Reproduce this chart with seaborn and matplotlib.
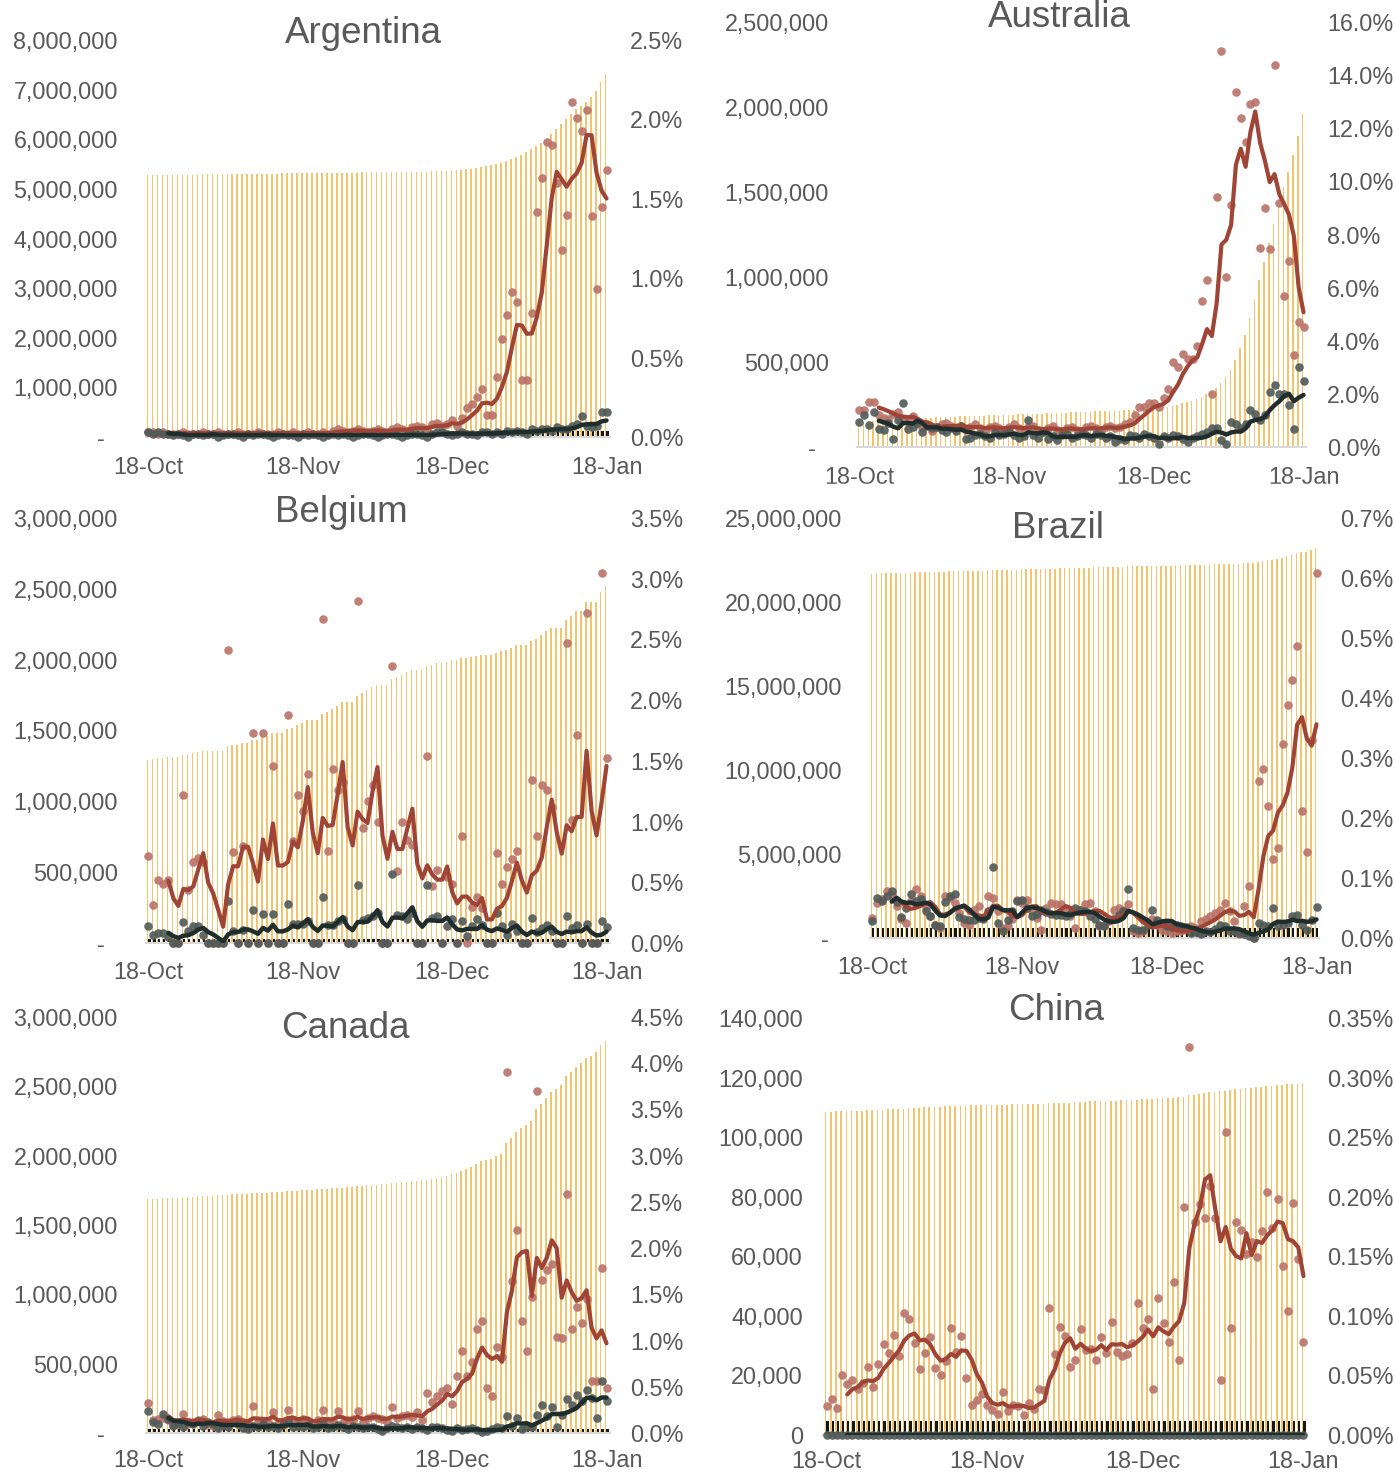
import numpy as np
import pandas as pd
import seaborn as sns
import matplotlib.pyplot as plt
from matplotlib.ticker import FuncFormatter
from matplotlib.patches import Rectangle

sns.set_theme(style="white")
plt.rcParams['font.family'] = ['Liberation Sans', 'DejaVu Sans']

# 18-Oct-2021 .. 18-Jan-2022, one value per day (93 days)
tick_days = [0, 31, 61, 92]
tick_labels = ['18-Oct', '18-Nov', '18-Dec', '18-Jan']

# ---------------- Argentina ----------------
arg_cases_m = [
    5.27, 5.27, 5.27, 5.27, 5.28, 5.28, 5.28, 5.28, 5.28, 5.28,
    5.28, 5.29, 5.29, 5.29, 5.29, 5.29, 5.29, 5.29, 5.29, 5.30,
    5.30, 5.30, 5.30, 5.30, 5.30, 5.30, 5.30, 5.31, 5.31, 5.31,
    5.31, 5.31, 5.31, 5.31, 5.31, 5.31, 5.32, 5.32, 5.32, 5.32,
    5.32, 5.32, 5.32, 5.33, 5.33, 5.33, 5.33, 5.33, 5.33, 5.34,
    5.34, 5.34, 5.34, 5.35, 5.35, 5.35, 5.35, 5.36, 5.36, 5.36,
    5.37, 5.37, 5.38, 5.39, 5.40, 5.41, 5.42, 5.44, 5.46, 5.48,
    5.50, 5.53, 5.56, 5.60, 5.64, 5.69, 5.75, 5.80, 5.86, 5.93,
    6.01, 6.10, 6.20, 6.30, 6.40, 6.50, 6.60, 6.68, 6.76, 6.85,
    6.98, 7.15, 7.32]
arg_deaths_k = [
    115.8, 115.8, 115.8, 115.9, 115.9, 115.9, 115.9, 116.0, 116.0, 116.0,
    116.0, 116.0, 116.1, 116.1, 116.1, 116.1, 116.1, 116.2, 116.2, 116.2,
    116.2, 116.2, 116.3, 116.3, 116.3, 116.3, 116.3, 116.4, 116.4, 116.4,
    116.4, 116.4, 116.5, 116.5, 116.5, 116.5, 116.5, 116.6, 116.6, 116.6,
    116.6, 116.6, 116.7, 116.7, 116.7, 116.7, 116.7, 116.8, 116.8, 116.8,
    116.8, 116.8, 116.9, 116.9, 116.9, 116.9, 116.9, 117.0, 117.0, 117.0,
    117.0, 117.0, 117.1, 117.1, 117.1, 117.1, 117.1, 117.2, 117.2, 117.2,
    117.2, 117.2, 117.3, 117.3, 117.3, 117.3, 117.3, 117.4, 117.4, 117.4,
    117.5, 117.5, 117.6, 117.6, 117.7, 117.8, 117.9, 118.0, 118.1, 118.2,
    118.3, 118.5, 118.7]
arg_case_pct = [
    0.03, 0.03, 0.02, 0.03, 0.02, 0.02, 0.02, 0.03, 0.02, 0.02,
    0.02, 0.03, 0.02, 0.02, 0.03, 0.02, 0.02, 0.02, 0.03, 0.02,
    0.02, 0.02, 0.03, 0.02, 0.02, 0.02, 0.03, 0.02, 0.02, 0.03,
    0.02, 0.02, 0.03, 0.02, 0.02, 0.03, 0.02, 0.04, 0.05, 0.04,
    0.03, 0.04, 0.05, 0.04, 0.03, 0.04, 0.05, 0.04, 0.03, 0.05,
    0.06, 0.05, 0.04, 0.06, 0.07, 0.06, 0.05, 0.08, 0.09, 0.07,
    0.08, 0.11, 0.07, 0.12, 0.18, 0.21, 0.25, 0.30, 0.14, 0.14,
    0.38, 0.62, 0.77, 0.91, 0.85, 0.36, 0.36, 0.78, 1.42, 1.63,
    1.86, 1.84, 1.60, 1.18, 1.40, 2.11, 2.01, 1.93, 2.06, 1.39,
    0.93, 1.45, 1.68]
arg_death_pct = [
    0.03, 0.02, 0.03, 0.02, 0.02, 0.01, 0.02, 0.01, 0.00, 0.02,
    0.02, 0.01, 0.02, 0.02, 0.00, 0.01, 0.02, 0.02, 0.01, 0.00,
    0.02, 0.01, 0.02, 0.02, 0.01, 0.00, 0.01, 0.02, 0.01, 0.01,
    0.00, 0.02, 0.01, 0.02, 0.01, 0.00, 0.01, 0.02, 0.01, 0.02,
    0.01, 0.00, 0.01, 0.02, 0.02, 0.01, 0.00, 0.01, 0.02, 0.02,
    0.01, 0.00, 0.01, 0.02, 0.02, 0.01, 0.00, 0.02, 0.03, 0.03,
    0.02, 0.01, 0.02, 0.03, 0.02, 0.02, 0.01, 0.03, 0.03, 0.02,
    0.03, 0.02, 0.04, 0.03, 0.04, 0.03, 0.02, 0.05, 0.04, 0.05,
    0.05, 0.04, 0.06, 0.05, 0.05, 0.07, 0.08, 0.13, 0.07, 0.06,
    0.07, 0.16, 0.16]

# ---------------- Australia ----------------
aus_cases_m = [
    0.147, 0.149, 0.151, 0.153, 0.155, 0.157, 0.159, 0.161, 0.163, 0.165,
    0.166, 0.168, 0.169, 0.171, 0.172, 0.173, 0.175, 0.176, 0.177, 0.178,
    0.179, 0.180, 0.181, 0.182, 0.183, 0.184, 0.185, 0.186, 0.187, 0.188,
    0.189, 0.190, 0.191, 0.192, 0.193, 0.194, 0.195, 0.196, 0.197, 0.198,
    0.199, 0.200, 0.201, 0.202, 0.203, 0.205, 0.206, 0.207, 0.208, 0.209,
    0.210, 0.211, 0.212, 0.213, 0.214, 0.216, 0.217, 0.218, 0.220, 0.222,
    0.224, 0.227, 0.230, 0.234, 0.238, 0.243, 0.249, 0.256, 0.264, 0.273,
    0.284, 0.296, 0.310, 0.327, 0.347, 0.374, 0.410, 0.455, 0.512, 0.580,
    0.660, 0.760, 0.870, 0.980, 1.090, 1.200, 1.310, 1.420, 1.530, 1.620,
    1.720, 1.830, 1.960]
aus_deaths_k = [
    1.55, 1.56, 1.57, 1.59, 1.60, 1.61, 1.62, 1.63, 1.64, 1.65,
    1.66, 1.67, 1.68, 1.69, 1.70, 1.71, 1.72, 1.73, 1.74, 1.75,
    1.76, 1.77, 1.78, 1.79, 1.80, 1.80, 1.81, 1.82, 1.83, 1.84,
    1.85, 1.86, 1.87, 1.88, 1.89, 1.90, 1.91, 1.92, 1.93, 1.94,
    1.95, 1.96, 1.97, 1.98, 1.99, 2.00, 2.01, 2.02, 2.03, 2.04,
    2.05, 2.05, 2.06, 2.07, 2.08, 2.09, 2.10, 2.11, 2.12, 2.13,
    2.14, 2.14, 2.15, 2.15, 2.16, 2.17, 2.17, 2.18, 2.19, 2.19,
    2.20, 2.21, 2.21, 2.22, 2.23, 2.23, 2.24, 2.25, 2.26, 2.27,
    2.29, 2.31, 2.33, 2.35, 2.37, 2.40, 2.43, 2.46, 2.49, 2.52,
    2.55, 2.63, 2.70]
aus_case_pct = [
    1.41, 1.41, 1.70, 1.70, 1.20, 1.10, 1.05, 1.25, 1.30, 1.05,
    0.95, 1.15, 0.90, 0.75, 0.85, 0.60, 0.75, 0.85, 0.90, 0.80,
    0.70, 0.80, 0.65, 0.75, 0.85, 0.70, 0.60, 0.75, 0.80, 0.70,
    0.65, 0.75, 0.85, 0.70, 0.60, 0.75, 0.80, 0.65, 0.55, 0.70,
    0.80, 0.65, 0.60, 0.70, 0.75, 0.65, 0.60, 0.75, 0.80, 0.70,
    0.65, 0.75, 0.80, 0.70, 0.75, 0.85, 0.95, 1.20, 1.51, 1.50,
    1.64, 1.64, 1.51, 1.83, 2.20, 3.20, 3.00, 3.50, 3.30, 3.30,
    3.80, 5.50, 6.30, 2.00, 9.40, 14.90, 6.40, 9.10, 13.35, 12.40,
    11.50, 12.90, 13.00, 7.50, 9.00, 7.46, 14.40, 9.20, 5.67, 7.00,
    3.46, 4.70, 4.53]
aus_death_pct = [
    0.94, 1.20, 0.82, 1.30, 0.69, 0.63, 0.90, 0.31, 1.00, 1.64,
    0.69, 0.75, 0.90, 0.55, 0.80, 0.70, 0.75, 0.65, 0.55, 0.70,
    0.60, 0.80, 0.30, 0.35, 0.45, 0.50, 0.40, 0.35, 0.55, 0.45,
    0.50, 0.55, 0.45, 0.35, 0.40, 1.00, 0.45, 0.35, 0.55, 0.30,
    0.40, 0.25, 0.45, 0.50, 0.35, 0.40, 0.50, 0.45, 0.35, 0.50,
    0.45, 0.35, 0.40, 0.20, 0.30, 0.25, 0.45, 0.40, 0.35, 0.50,
    0.40, 0.35, 0.10, 0.40, 0.35, 0.45, 0.40, 0.30, 0.20, 0.35,
    0.40, 0.50, 0.55, 0.70, 0.72, 0.25, 0.13, 0.94, 0.88, 0.70,
    0.85, 1.40, 1.26, 1.00, 1.20, 2.08, 2.33, 2.00, 2.00, 1.60,
    0.69, 3.00, 2.50]

# ---------------- Belgium ----------------
bel_cases_m = [
    1.290, 1.297, 1.303, 1.308, 1.312, 1.312, 1.312, 1.325, 1.330, 1.338,
    1.345, 1.352, 1.352, 1.352, 1.352, 1.352, 1.390, 1.400, 1.400, 1.410,
    1.410, 1.435, 1.435, 1.460, 1.460, 1.480, 1.480, 1.480, 1.508, 1.520,
    1.538, 1.555, 1.577, 1.577, 1.577, 1.620, 1.632, 1.655, 1.675, 1.698,
    1.698, 1.698, 1.746, 1.763, 1.783, 1.806, 1.824, 1.824, 1.824, 1.865,
    1.876, 1.894, 1.910, 1.925, 1.925, 1.925, 1.955, 1.964, 1.976, 1.976,
    1.986, 1.996, 1.996, 2.013, 2.013, 2.019, 2.027, 2.033, 2.033, 2.033,
    2.048, 2.058, 2.071, 2.085, 2.101, 2.101, 2.101, 2.129, 2.148, 2.176,
    2.203, 2.227, 2.227, 2.227, 2.282, 2.305, 2.344, 2.344, 2.408, 2.408,
    2.408, 2.481, 2.519]
bel_deaths_k = [
    25.90, 25.91, 25.92, 25.94, 25.95, 25.95, 25.95, 25.98, 25.99, 26.01,
    26.03, 26.05, 26.05, 26.05, 26.05, 26.05, 26.14, 26.16, 26.16, 26.19,
    26.19, 26.26, 26.26, 26.32, 26.32, 26.38, 26.38, 26.38, 26.46, 26.50,
    26.54, 26.58, 26.63, 26.63, 26.63, 26.73, 26.77, 26.81, 26.86, 26.91,
    26.91, 26.91, 27.04, 27.09, 27.15, 27.21, 27.28, 27.28, 27.28, 27.44,
    27.50, 27.56, 27.61, 27.68, 27.68, 27.68, 27.81, 27.87, 27.93, 27.93,
    27.97, 28.02, 28.02, 28.07, 28.09, 28.13, 28.19, 28.23, 28.23, 28.23,
    28.30, 28.34, 28.36, 28.40, 28.43, 28.43, 28.43, 28.49, 28.51, 28.55,
    28.59, 28.62, 28.62, 28.62, 28.68, 28.72, 28.76, 28.76, 28.81, 28.81,
    28.81, 28.86, 28.90]
bel_case_pct = [
    0.72, 0.31, 0.52, 0.49, 0.52, 0.00, 0.00, 1.22, 0.44, 0.67,
    0.70, 0.67, 0.00, 0.00, 0.00, 0.00, 2.41, 0.75, 0.00, 0.80,
    0.00, 1.73, 0.00, 1.73, 0.00, 1.46, 0.00, 0.00, 1.88, 0.84,
    1.22, 1.09, 1.39, 0.00, 0.00, 2.67, 0.76, 1.43, 1.26, 1.33,
    0.00, 0.00, 2.82, 0.95, 1.17, 1.30, 1.00, 0.00, 0.00, 2.28,
    0.59, 1.00, 0.85, 0.81, 0.00, 0.00, 1.54, 0.47, 0.60, 0.00,
    0.54, 0.49, 0.00, 0.88, 0.00, 0.30, 0.38, 0.29, 0.00, 0.00,
    0.74, 0.49, 0.63, 0.69, 0.76, 0.00, 0.00, 1.34, 0.88, 1.30,
    1.26, 1.12, 0.00, 0.00, 2.47, 1.01, 1.71, 0.00, 2.72, 0.00,
    0.00, 3.05, 1.52]
bel_death_pct = [
    0.14, 0.07, 0.08, 0.08, 0.05, 0.00, 0.00, 0.17, 0.10, 0.14,
    0.14, 0.07, 0.00, 0.00, 0.00, 0.00, 0.35, 0.10, 0.00, 0.11,
    0.00, 0.27, 0.00, 0.24, 0.00, 0.24, 0.00, 0.00, 0.32, 0.16,
    0.16, 0.16, 0.18, 0.00, 0.00, 0.38, 0.15, 0.15, 0.18, 0.20,
    0.00, 0.00, 0.48, 0.19, 0.21, 0.22, 0.25, 0.00, 0.00, 0.57,
    0.23, 0.22, 0.20, 0.25, 0.00, 0.00, 0.48, 0.21, 0.22, 0.00,
    0.14, 0.20, 0.00, 0.18, 0.06, 0.14, 0.20, 0.15, 0.00, 0.00,
    0.25, 0.14, 0.07, 0.16, 0.10, 0.00, 0.00, 0.21, 0.09, 0.12,
    0.15, 0.10, 0.00, 0.00, 0.22, 0.12, 0.15, 0.00, 0.16, 0.00,
    0.00, 0.18, 0.13]

# ---------------- Brazil ----------------
bra_cases_m = [
    21.67, 21.68, 21.70, 21.71, 21.72, 21.73, 21.73, 21.74, 21.75, 21.76,
    21.77, 21.78, 21.79, 21.79, 21.80, 21.81, 21.82, 21.83, 21.84, 21.84,
    21.85, 21.86, 21.87, 21.87, 21.88, 21.89, 21.90, 21.90, 21.91, 21.92,
    21.93, 21.94, 21.95, 21.95, 21.96, 21.97, 21.98, 21.99, 21.99, 22.00,
    22.01, 22.02, 22.03, 22.03, 22.04, 22.05, 22.06, 22.06, 22.07, 22.08,
    22.09, 22.10, 22.11, 22.12, 22.12, 22.13, 22.14, 22.14, 22.15, 22.16,
    22.16, 22.17, 22.17, 22.18, 22.18, 22.19, 22.19, 22.20, 22.21, 22.22,
    22.23, 22.24, 22.25, 22.27, 22.28, 22.29, 22.29, 22.30, 22.32, 22.32,
    22.38, 22.44, 22.49, 22.52, 22.55, 22.62, 22.71, 22.81, 22.92, 22.97,
    23.00, 23.08, 23.22]
bra_deaths_k = [
    603.5, 603.9, 604.2, 604.7, 605.2, 605.5, 605.7, 605.9, 606.3, 606.7,
    607.1, 607.4, 607.7, 607.8, 607.9, 608.2, 608.7, 609.1, 609.4, 609.6,
    609.8, 610.0, 610.2, 610.4, 610.7, 611.3, 611.5, 611.6, 611.8, 612.0,
    612.4, 612.8, 613.1, 613.3, 613.6, 613.8, 614.1, 614.3, 614.6, 614.8,
    615.0, 615.3, 615.6, 615.9, 616.2, 616.4, 616.6, 616.7, 616.8, 617.0,
    617.2, 617.4, 617.7, 618.2, 618.3, 618.4, 618.5, 618.6, 618.9, 619.1,
    619.2, 619.3, 619.4, 619.5, 619.6, 619.7, 619.8, 619.8, 619.8, 619.9,
    619.9, 620.0, 620.1, 620.2, 620.3, 620.3, 620.4, 620.4, 620.4, 620.4,
    620.5, 620.7, 620.8, 621.1, 621.2, 621.3, 621.5, 621.7, 621.9, 622.1,
    622.2, 622.4, 622.7]
bra_case_pct = [
    0.033, 0.059, 0.065, 0.078, 0.072, 0.053, 0.031, 0.025, 0.062, 0.081,
    0.070, 0.050, 0.036, 0.022, 0.017, 0.070, 0.067, 0.059, 0.042, 0.025,
    0.022, 0.047, 0.053, 0.033, 0.070, 0.067, 0.045, 0.017, 0.020, 0.031,
    0.064, 0.059, 0.064, 0.045, 0.033, 0.014, 0.050, 0.059, 0.056, 0.056,
    0.045, 0.036, 0.017, 0.047, 0.056, 0.059, 0.045, 0.020, 0.022, 0.028,
    0.047, 0.050, 0.047, 0.056, 0.011, 0.008, 0.011, 0.025, 0.031, 0.022,
    0.014, 0.011, 0.008, 0.011, 0.011, 0.015, 0.020, 0.017, 0.028, 0.031,
    0.036, 0.042, 0.047, 0.059, 0.045, 0.028, 0.006, 0.053, 0.086, 0.000,
    0.262, 0.282, 0.220, 0.131, 0.150, 0.323, 0.388, 0.430, 0.487, 0.212,
    0.144, 0.330, 0.608]
bra_death_pct = [
    0.028, 0.066, 0.061, 0.070, 0.078, 0.060, 0.035, 0.050, 0.073, 0.062,
    0.065, 0.045, 0.036, 0.022, 0.020, 0.060, 0.070, 0.073, 0.035, 0.032,
    0.030, 0.030, 0.033, 0.032, 0.045, 0.119, 0.025, 0.012, 0.030, 0.045,
    0.061, 0.064, 0.050, 0.036, 0.040, 0.047, 0.043, 0.040, 0.038, 0.039,
    0.036, 0.040, 0.050, 0.047, 0.045, 0.036, 0.031, 0.022, 0.020, 0.030,
    0.031, 0.039, 0.045, 0.081, 0.017, 0.014, 0.014, 0.022, 0.047, 0.030,
    0.025, 0.020, 0.019, 0.022, 0.020, 0.018, 0.008, 0.010, 0.006, 0.011,
    0.010, 0.015, 0.022, 0.020, 0.012, 0.011, 0.008, 0.006, 0.003, 0.000,
    0.025, 0.022, 0.020, 0.050, 0.020, 0.022, 0.025, 0.036, 0.038, 0.022,
    0.014, 0.030, 0.051]

# ---------------- Canada ----------------
can_cases_m = [
    1.685, 1.688, 1.690, 1.692, 1.694, 1.696, 1.698, 1.700, 1.702, 1.704,
    1.706, 1.708, 1.710, 1.712, 1.714, 1.716, 1.718, 1.720, 1.722, 1.724,
    1.726, 1.728, 1.730, 1.732, 1.734, 1.736, 1.738, 1.740, 1.742, 1.745,
    1.747, 1.750, 1.752, 1.755, 1.757, 1.760, 1.762, 1.765, 1.768, 1.770,
    1.773, 1.776, 1.779, 1.782, 1.785, 1.788, 1.791, 1.794, 1.797, 1.800,
    1.804, 1.807, 1.811, 1.815, 1.819, 1.823, 1.828, 1.833, 1.838, 1.845,
    1.855, 1.866, 1.877, 1.893, 1.905, 1.918, 1.938, 1.962, 1.971, 1.979,
    1.997, 2.013, 2.092, 2.125, 2.172, 2.199, 2.218, 2.251, 2.334, 2.372,
    2.414, 2.457, 2.482, 2.508, 2.573, 2.602, 2.637, 2.668, 2.706, 2.722,
    2.745, 2.795, 2.830]
can_deaths_k = [
    28.40, 28.43, 28.46, 28.50, 28.53, 28.56, 28.59, 28.61, 28.64, 28.67,
    28.70, 28.72, 28.75, 28.78, 28.80, 28.82, 28.84, 28.86, 28.89, 28.91,
    28.92, 28.93, 28.95, 28.97, 28.99, 29.00, 29.02, 29.04, 29.07, 29.09,
    29.11, 29.13, 29.15, 29.17, 29.18, 29.20, 29.22, 29.24, 29.26, 29.28,
    29.29, 29.31, 29.33, 29.34, 29.35, 29.37, 29.39, 29.40, 29.41, 29.43,
    29.45, 29.47, 29.48, 29.50, 29.51, 29.53, 29.54, 29.56, 29.58, 29.59,
    29.61, 29.62, 29.63, 29.65, 29.66, 29.67, 29.68, 29.69, 29.69, 29.70,
    29.72, 29.73, 29.79, 29.81, 29.86, 29.87, 29.89, 29.91, 29.97, 30.06,
    30.11, 30.19, 30.21, 30.27, 30.38, 30.47, 30.59, 30.70, 30.84, 30.96,
    31.01, 31.18, 31.29]
can_case_pct = [
    0.32, 0.14, 0.15, 0.16, 0.14, 0.10, 0.12, 0.21, 0.10, 0.12,
    0.14, 0.15, 0.10, 0.08, 0.20, 0.13, 0.12, 0.14, 0.15, 0.12,
    0.10, 0.29, 0.12, 0.13, 0.11, 0.23, 0.10, 0.12, 0.25, 0.14,
    0.13, 0.15, 0.12, 0.10, 0.14, 0.25, 0.13, 0.12, 0.24, 0.11,
    0.14, 0.15, 0.24, 0.12, 0.16, 0.18, 0.16, 0.15, 0.12, 0.28,
    0.16, 0.18, 0.20, 0.17, 0.23, 0.14, 0.43, 0.34, 0.40, 0.45,
    0.49, 0.31, 0.62, 0.89, 0.62, 0.77, 1.13, 1.21, 0.49, 0.40,
    0.93, 0.82, 3.91, 1.64, 2.20, 1.21, 0.89, 1.47, 3.70, 1.66,
    1.76, 1.83, 1.04, 1.03, 2.59, 1.13, 1.36, 1.19, 1.45, 0.56,
    0.56, 1.79, 0.49]
can_death_pct = [
    0.24, 0.12, 0.10, 0.21, 0.15, 0.08, 0.10, 0.06, 0.12, 0.10,
    0.13, 0.08, 0.12, 0.10, 0.05, 0.09, 0.07, 0.12, 0.10, 0.05,
    0.04, 0.08, 0.07, 0.10, 0.06, 0.08, 0.05, 0.09, 0.14, 0.07,
    0.08, 0.06, 0.09, 0.05, 0.07, 0.10, 0.05, 0.07, 0.09, 0.06,
    0.04, 0.08, 0.06, 0.05, 0.07, 0.06, 0.04, 0.02, 0.05, 0.08,
    0.06, 0.05, 0.07, 0.04, 0.06, 0.05, 0.03, 0.07, 0.06, 0.05,
    0.03, 0.02, 0.05, 0.03, 0.04, 0.05, 0.03, 0.01, 0.02, 0.04,
    0.06, 0.05, 0.18, 0.08, 0.16, 0.04, 0.07, 0.06, 0.20, 0.30,
    0.18, 0.28, 0.07, 0.20, 0.37, 0.30, 0.41, 0.35, 0.47, 0.38,
    0.16, 0.56, 0.35]

# ---------------- China ----------------
chn_cases_k = [
    108.6, 108.6, 108.7, 108.7, 108.8, 108.8, 108.9, 108.9, 109.0, 109.0,
    109.1, 109.2, 109.3, 109.4, 109.5, 109.6, 109.7, 109.8, 109.9, 110.0,
    110.1, 110.1, 110.2, 110.3, 110.4, 110.5, 110.6, 110.6, 110.7, 110.7,
    110.8, 110.8, 110.8, 110.9, 110.9, 110.9, 111.0, 111.0, 111.0, 111.1,
    111.1, 111.1, 111.2, 111.3, 111.4, 111.5, 111.6, 111.6, 111.7, 111.8,
    111.9, 112.0, 112.0, 112.1, 112.2, 112.2, 112.3, 112.4, 112.5, 112.5,
    112.6, 112.7, 112.8, 112.9, 113.0, 113.1, 113.2, 113.3, 113.4, 113.6,
    114.0, 114.3, 114.6, 114.8, 115.0, 115.2, 115.4, 115.6, 115.8, 116.0,
    116.2, 116.4, 116.6, 116.8, 117.0, 117.2, 117.3, 117.5, 117.6, 117.8,
    117.9, 118.0, 118.1]
chn_deaths = [
    4636, 4636, 4636, 4636, 4636, 4636, 4636, 4636, 4636, 4636,
    4636, 4636, 4636, 4636, 4636, 4636, 4636, 4636, 4636, 4636,
    4636, 4636, 4636, 4636, 4636, 4636, 4636, 4636, 4636, 4636,
    4636, 4636, 4636, 4636, 4636, 4636, 4636, 4636, 4636, 4636,
    4636, 4636, 4636, 4636, 4636, 4636, 4636, 4636, 4636, 4636,
    4636, 4636, 4636, 4636, 4636, 4636, 4636, 4636, 4636, 4636,
    4636, 4636, 4636, 4636, 4636, 4636, 4636, 4636, 4636, 4636,
    4636, 4636, 4636, 4636, 4636, 4636, 4636, 4636, 4636, 4636,
    4636, 4636, 4636, 4636, 4636, 4636, 4636, 4636, 4636, 4636,
    4636, 4636, 4636]
chn_case_pct = [
    0.024, 0.030, 0.023, 0.050, 0.043, 0.046, 0.039, 0.044, 0.057, 0.040,
    0.060, 0.076, 0.069, 0.084, 0.066, 0.102, 0.097, 0.077, 0.055, 0.069,
    0.082, 0.056, 0.050, 0.062, 0.090, 0.070, 0.083, 0.048, 0.025, 0.029,
    0.034, 0.025, 0.021, 0.018, 0.036, 0.020, 0.025, 0.024, 0.017, 0.027,
    0.022, 0.039, 0.038, 0.107, 0.068, 0.091, 0.083, 0.057, 0.063, 0.089,
    0.071, 0.072, 0.063, 0.082, 0.069, 0.095, 0.070, 0.066, 0.068, 0.077,
    0.111, 0.090, 0.097, 0.039, 0.115, 0.094, 0.078, 0.128, 0.063, 0.191,
    0.326, 0.179, 0.194, 0.182, 0.209, 0.182, 0.046, 0.254, 0.090, 0.179,
    0.172, 0.152, 0.162, 0.149, 0.171, 0.204, 0.174, 0.198, 0.142, 0.104,
    0.195, 0.148, 0.078]
chn_death_pct = [
    0, 0, 0, 0, 0, 0, 0, 0, 0, 0,
    0, 0, 0, 0, 0, 0, 0, 0, 0, 0,
    0, 0, 0, 0, 0, 0, 0, 0, 0, 0,
    0, 0, 0, 0, 0, 0, 0, 0, 0, 0,
    0, 0, 0, 0, 0, 0, 0, 0, 0, 0,
    0, 0, 0, 0, 0, 0, 0, 0, 0, 0,
    0, 0, 0, 0, 0, 0, 0, 0, 0, 0,
    0, 0, 0, 0, 0, 0, 0, 0, 0, 0,
    0, 0, 0, 0, 0, 0, 0, 0, 0, 0,
    0, 0, 0]

# ---------------- styling ----------------
W, H = 1395, 1474
TXT = '#595959'
ORANGE = '#F2C46E'
BLACK = '#161616'
RED_DOT = '#BA7268'
RED_LINE = '#A04436'
GRAY_DOT = '#4F5A57'
DARK_LINE = '#1F2D2D'
AXIS = '#D9D9D9'

fig = plt.figure(figsize=(W / 100, H / 100), dpi=100)
fig.patch.set_facecolor('white')


def draw_panel(name, cases, deaths, case_pct, death_pct, box, title_xy,
               ymax, ystep, pmax, pstep, pfmt, dash_zero, lpad, xpad=9.0):
    left, right, top, bottom = box          # pixel box of the plot area
    ax = fig.add_axes([left / W, 1 - bottom / H, (right - left) / W, (bottom - top) / H])
    days = np.arange(len(cases))

    ax.bar(days - 0.17, cases, width=0.32, color=ORANGE, linewidth=0, zorder=1)
    ax.bar(days + 0.2, deaths, width=0.42, color=BLACK, linewidth=0, zorder=2)
    ax.set_xlim(-0.6, 92.6)
    ax.set_ylim(0, ymax)
    ax.set_yticks(np.arange(0, ymax + ystep / 2, ystep))
    ax.yaxis.set_major_formatter(FuncFormatter(
        lambda v, p: ('-  ' if dash_zero else '0') if v == 0 else f'{v:,.0f}'))
    ax.set_xticks(tick_days, tick_labels)
    for s in ['top', 'left', 'right']:
        ax.spines[s].set_visible(False)
    ax.spines['bottom'].set_color(AXIS)
    ax.spines['bottom'].set_linewidth(1.5)
    ax.tick_params(axis='x', length=5, width=1.2, color=AXIS, pad=xpad,
                   labelsize=16.8, labelcolor=TXT)
    ax.tick_params(axis='y', length=0, pad=lpad, labelsize=16.8, labelcolor=TXT)

    df = pd.DataFrame({'day': days, 'case': case_pct, 'death': death_pct})
    # Excel-style 5 period moving average trendlines
    df['case_ma'] = df['case'].rolling(5).mean()
    df['death_ma'] = df['death'].rolling(5).mean()

    ax2 = ax.twinx()
    sns.scatterplot(data=df, x='day', y='case', color=RED_DOT, s=38, linewidth=0,
                    alpha=0.9, ax=ax2, clip_on=False, zorder=3, legend=False)
    sns.scatterplot(data=df, x='day', y='death', color=GRAY_DOT, s=38, linewidth=0,
                    alpha=0.9, ax=ax2, clip_on=False, zorder=4, legend=False)
    sns.lineplot(data=df.dropna(), x='day', y='case_ma', color=RED_LINE, linewidth=3.0,
                 estimator=None, ax=ax2, zorder=5)
    sns.lineplot(data=df.dropna(), x='day', y='death_ma', color=DARK_LINE, linewidth=3.2,
                 estimator=None, ax=ax2, zorder=6)
    ax2.set_ylim(0, pmax)
    ax2.set_yticks(np.arange(0, pmax + pstep / 2, pstep))
    ax2.yaxis.set_major_formatter(FuncFormatter(lambda v, p: pfmt.format(v) + '%'))
    ax2.tick_params(axis='y', length=0, pad=14.8, labelsize=16.8, labelcolor=TXT)
    for s in ax2.spines.values():
        s.set_visible(False)
    ax.set_xlabel('')
    ax.set_ylabel('')
    ax2.set_xlabel('')
    ax2.set_ylabel('')
    ax2.set_xlim(-0.6, 92.6)

    fig.text(title_xy[0] / W, 1 - title_xy[1] / H, name, ha='center', va='baseline',
             fontsize=26.5, color=TXT)


draw_panel('Argentina', np.array(arg_cases_m) * 1e6, np.array(arg_deaths_k) * 1e3,
           arg_case_pct, arg_death_pct, (145.5, 609.5, 40, 437), (363, 43),
           8e6, 1e6, 2.5, 0.5, '{:.1f}', True, 19.8)
draw_panel('Australia', np.array(aus_cases_m) * 1e6, np.array(aus_deaths_k) * 1e3,
           aus_case_pct, aus_death_pct, (856.6, 1306.4, 22, 447), (1059, 27),
           2.5e6, 5e5, 16, 2, '{:.1f}', True, 19.8)
draw_panel('Belgium', np.array(bel_cases_m) * 1e6, np.array(bel_deaths_k) * 1e3,
           bel_case_pct, bel_death_pct, (145.5, 609.5, 518, 943), (341, 522),
           3e6, 5e5, 3.5, 0.5, '{:.1f}', True, 19.8, 8.0)
draw_panel('Brazil', np.array(bra_cases_m) * 1e6, np.array(bra_deaths_k) * 1e3,
           bra_case_pct, bra_death_pct, (869.6, 1319.4, 518, 938), (1058, 538),
           25e6, 5e6, 0.7, 0.1, '{:.1f}', True, 19.8, 8.0)
draw_panel('Canada', np.array(can_cases_m) * 1e6, np.array(can_deaths_k) * 1e3,
           can_case_pct, can_death_pct, (145.5, 609.5, 1017, 1433), (345, 1038),
           3e6, 5e5, 4.5, 0.5, '{:.1f}', True, 19.8, 6.5)
draw_panel('China', np.array(chn_cases_k) * 1e3, chn_deaths,
           chn_case_pct, chn_death_pct, (823.4, 1306.6, 1018, 1435), (1056, 1020),
           140000, 20000, 0.35, 0.05, '{:.2f}', False, 14.7, 6.0)

# the Australia chart area ends just below its date labels
fig.add_artist(Rectangle((700 / W, 1 - 497 / H), 695 / W, 13 / H,
                         transform=fig.transFigure, color='white', zorder=20))

plt.savefig('out.png', dpi=100)
